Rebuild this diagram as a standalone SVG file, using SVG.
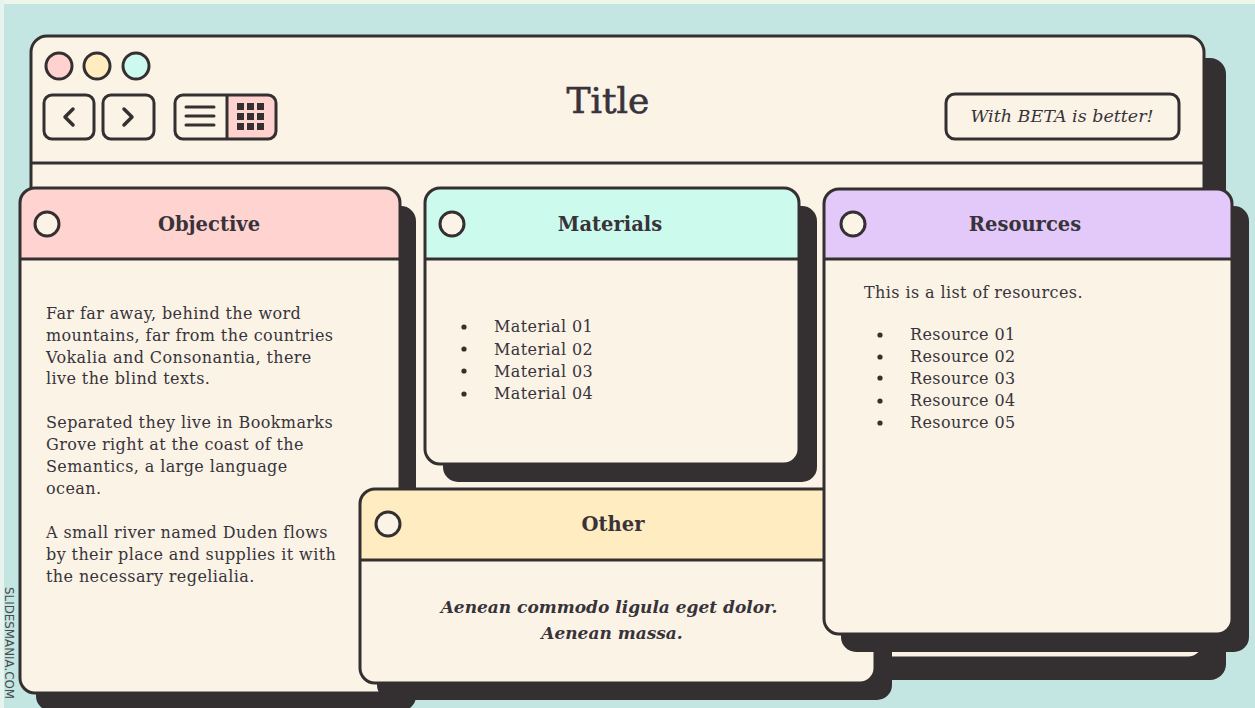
<svg xmlns="http://www.w3.org/2000/svg" width="1255" height="708" viewBox="0 0 1255 708">
<style>
.ink{stroke:#343031;stroke-width:3;fill:none}
.shadow{fill:#343031}
.cream{fill:#faf3e6}
.t{font-family:"DejaVu Serif","Liberation Serif",serif;fill:#38333a}
.body{font-size:16px;letter-spacing:0.4px}
.head{font-size:19.5px;font-weight:bold;text-anchor:middle}
.dot{fill:#343031}
</style>
<rect x="0" y="0" width="1255" height="708" fill="#c3e6e3"/>
<rect x="0" y="0" width="1255" height="4" fill="#eef6ea"/>
<rect x="0" y="0" width="4" height="708" fill="#e6f3ef"/>

<g id="window">
  <rect class="shadow" x="53" y="58" width="1173" height="622" rx="16"/>
  <rect class="cream" x="31" y="36" width="1173" height="622" rx="16"/>
  <rect class="ink" x="31" y="36" width="1173" height="622" rx="16"/>
  <line class="ink" x1="31" y1="163" x2="1204" y2="163"/>
  <circle cx="59" cy="66" r="13" class="ink" style="fill:#ffd1cf"/>
  <circle cx="97" cy="66" r="13" class="ink" style="fill:#ffecbf"/>
  <circle cx="136" cy="66" r="13" class="ink" style="fill:#ccfaee"/>
  <rect class="ink" x="44" y="95" width="50" height="44" rx="8"/>
  <polyline class="ink" style="stroke-width:3.5;stroke-linecap:round;stroke-linejoin:round" points="73,109 65,117 73,125"/>
  <rect class="ink" x="103" y="95" width="51" height="44" rx="8"/>
  <polyline class="ink" style="stroke-width:3.5;stroke-linecap:round;stroke-linejoin:round" points="124,109 132,117 124,125"/>
  <path d="M227,95 H268 A8,8 0 0 1 276,103 V131 A8,8 0 0 1 268,139 H227 Z" fill="#ffd1cf"/>
  <rect class="ink" x="175" y="95" width="101" height="44" rx="8"/>
  <line class="ink" x1="227" y1="95" x2="227" y2="139"/>
  <g class="ink" style="stroke-linecap:round">
    <line x1="186" y1="107" x2="214" y2="107"/>
    <line x1="186" y1="116" x2="214" y2="116"/>
    <line x1="186" y1="125" x2="214" y2="125"/>
  </g>
  <g class="dot">
    <rect x="237" y="103" width="7" height="7"/><rect x="247" y="103" width="7" height="7"/><rect x="257" y="103" width="7" height="7"/>
    <rect x="237" y="113" width="7" height="7"/><rect x="247" y="113" width="7" height="7"/><rect x="257" y="113" width="7" height="7"/>
    <rect x="237" y="123" width="7" height="7"/><rect x="247" y="123" width="7" height="7"/><rect x="257" y="123" width="7" height="7"/>
  </g>
  <text class="t" x="608" y="113" font-size="36" text-anchor="middle" stroke="#38333a" stroke-width="0.6">Title</text>
  <rect class="ink" x="946" y="94" width="233" height="45" rx="9"/>
  <text class="t" x="1062" y="122" font-size="17.5" font-style="italic" text-anchor="middle">With BETA is better!</text>
</g>

<g id="objective">
  <rect class="shadow" x="36" y="206" width="380" height="505" rx="15"/>
  <rect class="cream" x="20" y="188" width="380" height="505" rx="15"/>
  <path d="M20,259 V203 A15,15 0 0 1 35,188 H385 A15,15 0 0 1 400,203 V259 Z" fill="#ffd3cf"/>
  <rect class="ink" x="20" y="188" width="380" height="505" rx="15"/>
  <line class="ink" x1="20" y1="259" x2="400" y2="259"/>
  <circle class="ink" cx="47" cy="224" r="12" style="fill:#faf3e6"/>
  <text class="t head" x="209" y="231">Objective</text>
  <text class="t body">
    <tspan x="46" y="319">Far far away, behind the word</tspan>
    <tspan x="46" y="341">mountains, far from the countries</tspan>
    <tspan x="46" y="363">Vokalia and Consonantia, there</tspan>
    <tspan x="46" y="384">live the blind texts.</tspan>
    <tspan x="46" y="428">Separated they live in Bookmarks</tspan>
    <tspan x="46" y="450">Grove right at the coast of the</tspan>
    <tspan x="46" y="472">Semantics, a large language</tspan>
    <tspan x="46" y="494">ocean.</tspan>
    <tspan x="46" y="538">A small river named Duden flows</tspan>
    <tspan x="46" y="560">by their place and supplies it with</tspan>
    <tspan x="46" y="582">the necessary regelialia.</tspan>
  </text>
</g>

<g id="materials">
  <rect class="shadow" x="443" y="206" width="374" height="276" rx="15"/>
  <rect class="cream" x="425" y="188" width="374" height="276" rx="15"/>
  <path d="M425,259 V203 A15,15 0 0 1 440,188 H784 A15,15 0 0 1 799,203 V259 Z" fill="#ccfbee"/>
  <rect class="ink" x="425" y="188" width="374" height="276" rx="15"/>
  <line class="ink" x1="425" y1="259" x2="799" y2="259"/>
  <circle class="ink" cx="452" cy="224" r="12" style="fill:#faf3e6"/>
  <text class="t head" x="610" y="231">Materials</text>
  <g class="dot">
    <circle cx="464" cy="327" r="2.6"/><circle cx="464" cy="349" r="2.6"/><circle cx="464" cy="371" r="2.6"/><circle cx="464" cy="394" r="2.6"/>
  </g>
  <text class="t body">
    <tspan x="494" y="332">Material 01</tspan>
    <tspan x="494" y="355">Material 02</tspan>
    <tspan x="494" y="377">Material 03</tspan>
    <tspan x="494" y="399">Material 04</tspan>
  </text>
</g>

<g id="other">
  <rect class="shadow" x="377" y="506" width="515" height="194" rx="15"/>
  <rect class="cream" x="360" y="489" width="515" height="194" rx="15"/>
  <path d="M360,560 V504 A15,15 0 0 1 375,489 H860 A15,15 0 0 1 875,504 V560 Z" fill="#ffecc0"/>
  <rect class="ink" x="360" y="489" width="515" height="194" rx="15"/>
  <line class="ink" x1="360" y1="560" x2="875" y2="560"/>
  <circle class="ink" cx="388" cy="524" r="12" style="fill:#faf3e6"/>
  <text class="t head" x="613" y="531">Other</text>
  <text class="t" font-size="17" font-weight="bold" font-style="italic" text-anchor="middle">
    <tspan x="612" y="613">Aenean commodo ligula eget dolor.</tspan>
    <tspan x="612" y="639">Aenean massa.</tspan>
  </text>
</g>

<g id="resources">
  <rect class="shadow" x="841" y="206" width="408" height="446" rx="15"/>
  <rect class="cream" x="824" y="189" width="408" height="445" rx="15"/>
  <path d="M824,259 V204 A15,15 0 0 1 839,189 H1217 A15,15 0 0 1 1232,204 V259 Z" fill="#e3c9f9"/>
  <rect class="ink" x="824" y="189" width="408" height="445" rx="15"/>
  <line class="ink" x1="824" y1="259" x2="1232" y2="259"/>
  <circle class="ink" cx="853" cy="224" r="12" style="fill:#faf3e6"/>
  <text class="t head" x="1025" y="231">Resources</text>
  <text class="t body" x="864" y="298">This is a list of resources.</text>
  <g class="dot">
    <circle cx="880" cy="335" r="2.6"/><circle cx="880" cy="357" r="2.6"/><circle cx="880" cy="378" r="2.6"/><circle cx="880" cy="401" r="2.6"/><circle cx="880" cy="423" r="2.6"/>
  </g>
  <text class="t body">
    <tspan x="910" y="340">Resource 01</tspan>
    <tspan x="910" y="362">Resource 02</tspan>
    <tspan x="910" y="384">Resource 03</tspan>
    <tspan x="910" y="406">Resource 04</tspan>
    <tspan x="910" y="428">Resource 05</tspan>
  </text>
</g>

<text transform="translate(5,587) rotate(90)" font-family="'DejaVu Sans Condensed','Liberation Sans Narrow',sans-serif" font-size="12" fill="#4a4a4a" textLength="112" lengthAdjust="spacingAndGlyphs">SLIDESMANIA.COM</text>
</svg>
